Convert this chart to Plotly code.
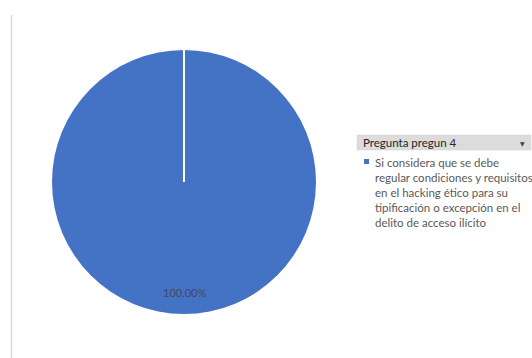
import plotly.graph_objects as go

# Survey data
categories = ["Si considera que se debe regular condiciones y requisitos en el hacking ético para su tipificación o excepción en el delito de acceso ilícito"]
values = [100]
legend_title = "Pregunta pregun 4"
legend_lines = ["Si considera que se debe", "regular condiciones y requisitos",
                "en el hacking ético para su", "tipificación o excepción en el",
                "delito de acceso ilícito"]
colors = ["#4472C4"]

W, H = 532, 358
cx, cy, r = 184, 182, 132  # pie centre / radius in pixels

def px(x):
    return x / W

def py(y):
    return 1 - y / H

fig = go.Figure()
fig.add_trace(go.Pie(
    labels=categories,
    values=values,
    marker=dict(colors=colors, line=dict(color="white", width=0)),
    textinfo="none",
    sort=False,
    direction="clockwise",
    rotation=0,
    showlegend=False,
    hoverinfo="label+percent",
    domain=dict(x=[px(cx - r), px(cx + r)], y=[py(cy + r), py(cy - r)]),
))

total = sum(values)
pct_text = f"{values[0] / total * 100:.2f}%"

shapes = [
    # slice boundary from the centre to 12 o'clock
    dict(type="line", xref="paper", yref="paper",
         x0=px(cx), x1=px(cx), y0=py(cy), y1=py(cy - r),
         line=dict(color="white", width=2)),
    # plot-area left border
    dict(type="line", xref="paper", yref="paper",
         x0=px(11.5), x1=px(11.5), y0=py(15), y1=0,
         line=dict(color="#d9d9d9", width=1.5)),
    # legend header bar
    dict(type="rect", xref="paper", yref="paper",
         x0=px(357), x1=px(531), y0=py(150), y1=py(135),
         fillcolor="#dcdcdc", line=dict(color="#d0d0d0", width=0.5)),
    # legend marker
    dict(type="rect", xref="paper", yref="paper",
         x0=px(364), x1=px(369), y0=py(164), y1=py(159),
         fillcolor=colors[0], line=dict(width=0)),
]

annotations = [
    dict(text=pct_text, x=px(cx), y=py(292), xref="paper", yref="paper",
         showarrow=False, font=dict(family="Lato", size=11, color="#404a5e"),
         xanchor="center", yanchor="middle"),
    dict(text=legend_title, x=px(361), y=py(142.5), xref="paper", yref="paper",
         showarrow=False, font=dict(family="Lato", size=11.5, color="#262626"),
         xanchor="left", yanchor="middle"),
    dict(text="▼", x=px(522), y=py(143), xref="paper", yref="paper",
         showarrow=False, font=dict(family="DejaVu Sans", size=6, color="#404040"),
         xanchor="center", yanchor="middle"),
    dict(text="<br>".join(legend_lines), x=px(373), y=py(154), xref="paper", yref="paper",
         showarrow=False, align="left",
         font=dict(family="Lato", size=11.5, color="#595959"),
         xanchor="left", yanchor="top"),
]

fig.update_layout(
    width=W, height=H,
    margin=dict(l=0, r=0, t=0, b=0),
    paper_bgcolor="white",
    plot_bgcolor="white",
    shapes=shapes,
    annotations=annotations,
)

fig.write_html("out.html")
